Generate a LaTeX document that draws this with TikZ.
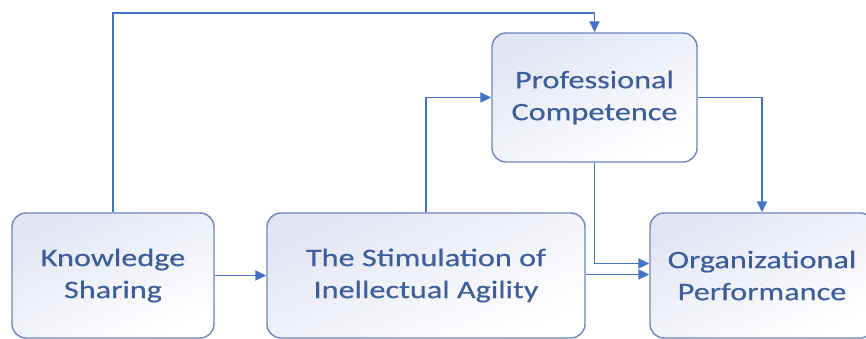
\documentclass[tikz,border=0pt]{standalone}
\usepackage{fontspec}
\setmainfont{Carlito}[FakeStretch=1.28, FakeBold=0.4]
\usetikzlibrary{arrows.meta}
\definecolor{linec}{HTML}{4472C4}
\definecolor{boxc}{HTML}{6A87BE}
\definecolor{textc}{HTML}{3D5E9C}
\definecolor{fillc}{HTML}{E2E5F3}
\tikzset{
  box/.style={draw=boxc, line width=1.4pt, rounded corners=14pt,
    top color=fillc, bottom color=white, shading angle=25,
    text=textc, align=center, inner sep=0pt,
    font=\fontsize{25.2}{32}\selectfont},
  arr/.style={draw=linec, line width=1.9pt, -{Triangle[length=11pt,width=10pt]}}
}
\begin{document}
\begin{tikzpicture}[x=1pt,y=-1pt]
\useasboundingbox (0,0) rectangle (866,339);
\begin{scope}
\clip (0,0) rectangle (866,339);
\node[box, minimum width=202pt, minimum height=125pt] (ks) at (113,275.5) {Knowledge\\Sharing};
\node[box, minimum width=318pt, minimum height=125pt] (stim) at (426,275.5) {The Stimulation of\\Inellectual Agility};
\node[box, minimum width=205pt, minimum height=129pt] (pc) at (594.5,97.5) {Professional\\Competence};
\node[box, minimum width=224pt, minimum height=125pt] (op) at (762,275.5) {Organizational\\Performance};
\coordinate (topl) at (113,13);
\draw[arr, rounded corners=0pt] (ks.north) -- (topl) -| (pc.north);
\draw[arr] (ks.east) -- (stim.west);
\draw[arr] (stim.north) |- (pc.west);
\draw[arr] (pc.south) |- ([yshift=12pt]op.west);
\draw[arr] ([yshift=1pt]stim.east) -- ([yshift=1pt]op.west);
\draw[arr] (pc.east) -| (op.north);
\end{scope}
\end{tikzpicture}
\end{document}
